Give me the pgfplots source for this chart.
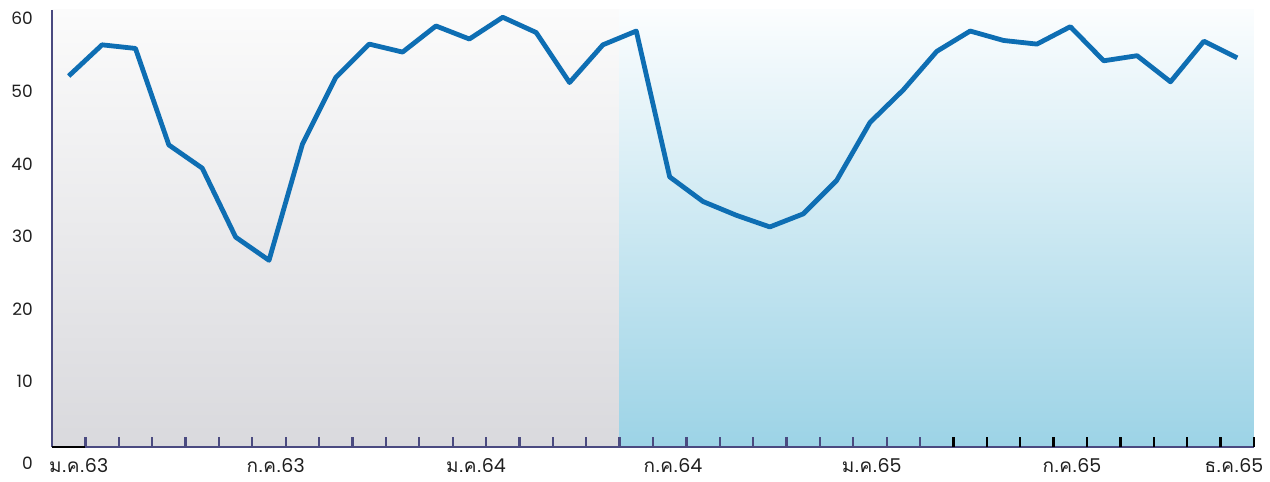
\documentclass[border=0pt]{standalone}
\usepackage{pgfplots}
\pgfplotsset{compat=1.18}
\usepackage{fontspec}
\setmainfont{Poppins}
\newfontfamily\thaifont[Script=Thai]{Loma}

\definecolor{linecol}{HTML}{0E6EB3}
\definecolor{axiscol}{HTML}{4A4A80}
\definecolor{graytop}{HTML}{FBFBFB}
\definecolor{graybot}{HTML}{D9D9DD}
\definecolor{bluetop}{HTML}{FBFDFE}
\definecolor{bluebot}{HTML}{9CD3E6}

\begin{document}
\begin{tikzpicture}
% page = 1270 x 482 px, 1px = 1bp, axis origin at px (52,447)
\path[use as bounding box] (-52bp,-35bp) rectangle (1218bp,447bp);

\begin{axis}[
    at={(0,0)}, anchor=south west,
    width=1202bp, height=437bp,
    scale only axis,
    axis on top,
    xmin=-0.5, xmax=35.5,
    ymin=0.97, ymax=61.2,
    axis lines*=left,
    axis line style={axiscol, line width=1.6bp},
    tick align=inside,
    ytick={10,20,30,40,50,60},
    ytick style={draw=none},
    yticklabel style={inner sep=0pt, anchor=east, xshift=-19bp},
    xtick={0.3,6.2,12.2,18.1,24.05,30.05,34.9},
    xticklabels={{\thaifont ม.ค.}63,{\thaifont ก.ค.}63,{\thaifont ม.ค.}64,{\thaifont ก.ค.}64,{\thaifont ม.ค.}65,{\thaifont ก.ค.}65,{\thaifont ธ.ค.}65},
    major tick length=0pt,
    xticklabel style={inner sep=0pt, anchor=north, yshift=-11bp, font=\fontsize{19bp}{22bp}\selectfont},
    minor xtick={0.5,1.5,...,35.5},
    minor tick length=10bp,
    minor tick style={axiscol, line width=2.3bp},
    extra x ticks={26.5,27.5,...,35.5},
    extra x tick labels={},
    extra x tick style={major tick length=10bp, tick style={black, line width=2.3bp}},
    yticklabel style={font=\fontsize{17bp}{20bp}\selectfont},
    every tick label/.append style={text=black!88},
    /pgf/number format/assume math mode=true,
]
% background panels
\addplot[draw=none, top color=graytop, bottom color=graybot]
    coordinates {(-0.5,0.97) (-0.5,61.2) (16.5,61.2) (16.5,0.97)} -- cycle;
\addplot[draw=none, top color=bluetop, bottom color=bluebot]
    coordinates {(16.5,0.97) (16.5,61.2) (35.5,61.2) (35.5,0.97)} -- cycle;

\addplot[linecol, line width=4.8bp, line join=round, mark=none] coordinates {
    (0,52.1) (1,56.4) (2,55.9) (3,42.6) (4,39.4) (5,29.9)
    (6,26.7) (7,42.7) (8,51.9) (9,56.5) (10,55.4) (11,59.0)
    (12,57.2) (13,60.2) (14,58.1) (15,51.2) (16,56.4) (17,58.3)
    (18,38.2) (19,34.8) (20,32.9) (21,31.3) (22,33.1) (23,37.7)
    (24,45.7) (25,50.2) (26,55.5) (27,58.3) (28,57.0) (29,56.5)
    (30,58.9) (31,54.2) (32,54.9) (33,51.3) (34,56.9) (35,54.6)
};
\end{axis}
% first black segment of the base line and the 0 label
\draw[black, line width=2.4bp] (0,0) -- (33bp,0);
\node[anchor=east, inner sep=0pt, font=\fontsize{17bp}{20bp}\selectfont, text=black!88] at (-19bp,-16bp) {0};
\end{tikzpicture}
\end{document}
